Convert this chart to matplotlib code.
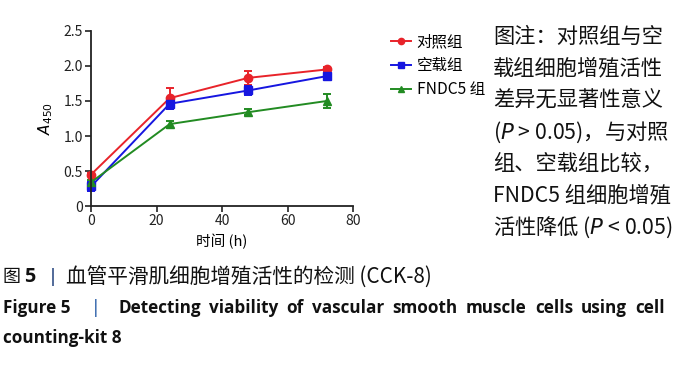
import matplotlib
matplotlib.use("Agg")
import matplotlib.pyplot as plt
from matplotlib.lines import Line2D

plt.rcParams['font.family'] = ['Noto Sans CJK SC', 'DejaVu Sans']

time_h = [0, 24, 48, 72]
series_names = ["对照组", "空载组", "FNDC5 组"]
control = [0.45, 1.54, 1.83, 1.95]
control_err = [0.02, 0.15, 0.10, 0.04]
vector = [0.28, 1.46, 1.65, 1.855]
vector_err = [0.07, 0.07, 0.06, 0.02]
fndc5 = [0.34, 1.17, 1.34, 1.50]
fndc5_err = [0.03, 0.05, 0.04, 0.10]
yticks = [0, 0.5, 1.0, 1.5, 2.0, 2.5]
yticklabels = ["0", "0.5", "1.0", "1.5", "2.0", "2.5"]
xticks = [0, 20, 40, 60, 80]

colors = ["#e8232a", "#1616e0", "#228b22"]
markers = ["o", "s", "^"]

W, H = 686, 368
fig = plt.figure(figsize=(6.86, 3.68), dpi=100)
ax = fig.add_axes([0.1327, 0.44, 0.382, 0.476])

handles = []
for vals, errs, c, m, name in zip([control, vector, fndc5], [control_err, vector_err, fndc5_err],
                                  colors, markers, series_names):
    ax.errorbar(time_h, vals, yerr=errs, color=c, marker=m, markersize=6, lw=1.4,
                capsize=3, elinewidth=1.4, capthick=1.4, clip_on=False)
    handles.append(Line2D([], [], color=c, marker=m, markersize=4.5, lw=1.4, label=name))

ax.set_xlim(0, 80)
ax.set_ylim(0, 2.5)
ax.set_xticks(xticks)
ax.set_yticks(yticks)
ax.set_yticklabels(yticklabels)
ax.spines['top'].set_visible(False)
ax.spines['right'].set_visible(False)
for s in ['left', 'bottom']:
    ax.spines[s].set_linewidth(1.3)
    ax.spines[s].set_color('#222222')
ax.tick_params(labelsize=10, width=1.2, length=4, pad=2, colors='#222222')
ax.set_xlabel("时间 (h)", fontsize=10.5, labelpad=4)
ax.set_ylabel(r"$\mathit{A}_{450}$", fontsize=11, labelpad=6)

fig.legend(handles=handles, loc='upper left', bbox_to_anchor=(391 / W, 1 - 33 / H), frameon=False,
           fontsize=11.2, handlelength=1.3, handletextpad=0.35, labelspacing=0.45, borderpad=0,
           borderaxespad=0)

note_lines = ["图注：对照组与空", "载组细胞增殖活性", "差异无显著性意义",
              "($\\mathit{P}$ > 0.05)，与对照", "组、空载组比较，",
              "FNDC5 组细胞增殖", "活性降低 ($\\mathit{P}$ < 0.05)"]
for i, line in enumerate(note_lines):
    fig.text(493 / W, 1 - (37 + i * 31.7) / H, line, fontsize=15.3, va='center', ha='left',
             color='#111111')

# Chinese caption
cy = 1 - 277 / H
fig.text(3 / W, cy, "图", fontsize=13, va='center', ha='left', color='#111111')
fig.text(24 / W, cy, "5", fontsize=14.2, fontweight='bold', va='center', ha='left',
         color='#111111', family=['Open Sans'])
fig.text(50 / W, cy, "|", fontsize=13, va='center', ha='left', color='#1f3f7a', family=['DejaVu Sans'])
fig.text(66 / W, cy, "血管平滑肌细胞增殖活性的检测 (CCK-8)", fontsize=14.9,
         va='center', ha='left', color='#111111')

# English caption, line 1 justified
ey1 = 1 - 308 / H
ey2 = 1 - 338 / H
efont = dict(fontsize=12.3, fontweight='bold', va='center', ha='left', color='#111111',
             family=['Open Sans'])
fig.text(3 / W, ey1, "Figure 5", **efont)
fig.text(93 / W, ey1, "|", fontsize=12, va='center', ha='left', color='#2a5fa8', family=['DejaVu Sans'])
words = "Detecting viability of vascular smooth muscle cells using cell".split()
renderer = fig.canvas.get_renderer()
widths = []
for w in words:
    t = fig.text(0, 0, w, **efont)
    widths.append(t.get_window_extent(renderer).width)
    t.remove()
x0, x1 = 118.0, 665.0
gap = (x1 - x0 - sum(widths)) / (len(words) - 1)
x = x0
for w, wd in zip(words, widths):
    fig.text(x / W, ey1, w, **efont)
    x += wd + gap
fig.text(3 / W, ey2, "counting-kit 8", **efont)

fig.savefig("out.png", dpi=100)
